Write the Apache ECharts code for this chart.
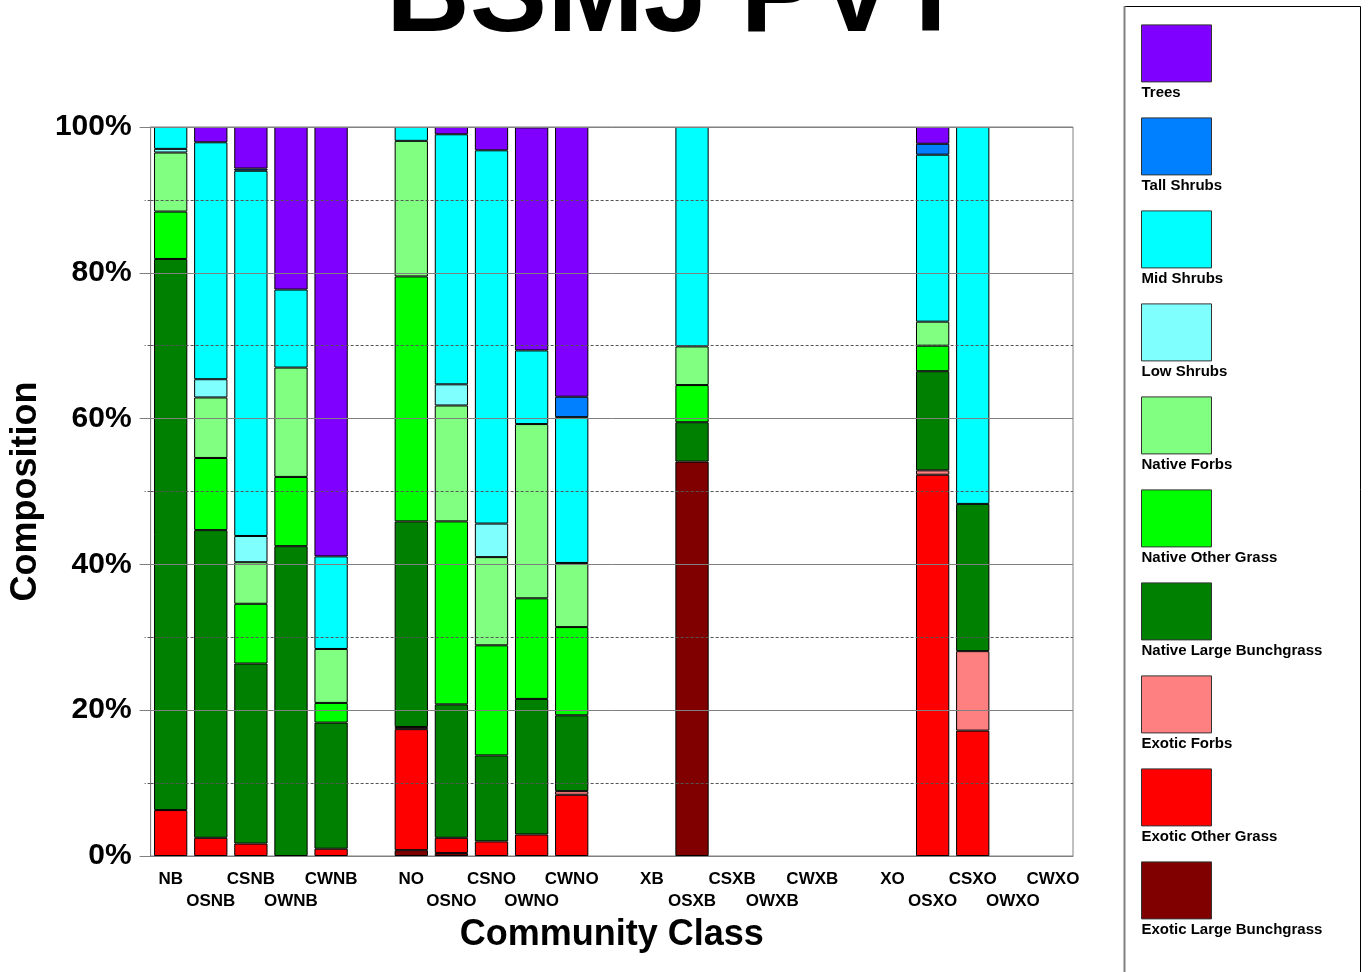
<!DOCTYPE html>
<html>
<head>
<meta charset="utf-8">
<title>BSMJ PVT</title>
<script src="https://cdn.jsdelivr.net/npm/echarts@6/dist/echarts.min.js"></script>
<style>
  html, body { margin: 0; padding: 0; background: #fff; }
  #chart { width: 1369px; height: 972px; }
</style>
</head>
<body>
<div id="chart"></div>
<script>
// community classes, '' = spacer slot between groups
const categories = [
  'NB', 'OSNB', 'CSNB', 'OWNB', 'CWNB', '',
  'NO', 'OSNO', 'CSNO', 'OWNO', 'CWNO', '',
  'XB', 'OSXB', 'CSXB', 'OWXB', 'CWXB', '',
  'XO', 'OSXO', 'CSXO', 'OWXO', 'CWXO'
];

// stack order, bottom to top
const seriesNames = [
  'Exotic Large Bunchgrass', 'Exotic Other Grass', 'Exotic Forbs',
  'Native Large Bunchgrass', 'Native Other Grass', 'Native Forbs',
  'Low Shrubs', 'Mid Shrubs', 'Tall Shrubs', 'Trees'
];

// percent composition per class
const exoticLargeBunchgrass = [0, 0, 0, 0, 0, 0, 0.8, 0.4, 0, 0, 0, 0, 0, 54.1, 0, 0, 0, 0, 0, 0, 0, 0, 0];
const exoticOtherGrass      = [6.3, 2.5, 1.7, 0, 1.0, 0, 16.6, 2.1, 2.0, 2.95, 8.4, 0, 0, 0, 0, 0, 0, 0, 0, 52.3, 17.2, 0, 0];
const exoticForbs           = [0, 0, 0, 0, 0, 0, 0.3, 0, 0, 0, 0.5, 0, 0, 0, 0, 0, 0, 0, 0, 0.6, 10.9, 0, 0];
const nativeLargeBunchgrass = [75.6, 42.2, 24.7, 42.5, 17.3, 0, 28.2, 18.3, 11.8, 18.6, 10.4, 0, 0, 5.4, 0, 0, 0, 0, 0, 13.6, 20.2, 0, 0];
const nativeOtherGrass      = [6.5, 9.9, 8.2, 9.5, 2.7, 0, 33.6, 25.1, 15.1, 13.8, 12.1, 0, 0, 5.1, 0, 0, 0, 0, 0, 3.5, 0, 0, 0];
const nativeForbs           = [8.1, 8.3, 5.7, 15.0, 7.4, 0, 18.6, 15.9, 12.1, 23.9, 8.8, 0, 0, 5.3, 0, 0, 0, 0, 0, 3.3, 0, 0, 0];
const lowShrubs             = [0.5, 2.5, 3.6, 0, 0, 0, 0, 2.9, 4.6, 0, 0, 0, 0, 0, 0, 0, 0, 0, 0, 0, 0, 0, 0];
const midShrubs             = [3.0, 32.5, 50.1, 10.7, 12.7, 0, 1.9, 34.3, 51.2, 10.1, 20.0, 0, 0, 30.1, 0, 0, 0, 0, 0, 22.9, 51.7, 0, 0];
const tallShrubs            = [0, 0, 0.3, 0, 0, 0, 0, 0, 0, 0, 2.8, 0, 0, 0, 0, 0, 0, 0, 0, 1.5, 0, 0, 0];
const trees                 = [0, 2.1, 5.7, 22.3, 58.9, 0, 0, 1.0, 3.2, 30.6, 37.0, 0, 0, 0, 0, 0, 0, 0, 0, 2.3, 0, 0, 0];

const seriesValues = [
  exoticLargeBunchgrass, exoticOtherGrass, exoticForbs,
  nativeLargeBunchgrass, nativeOtherGrass, nativeForbs,
  lowShrubs, midShrubs, tallShrubs, trees
];

const colors = [
  '#800000', '#ff0000', '#ff8080',
  '#008000', '#00ff00', '#80ff80',
  '#80ffff', '#00ffff', '#0080ff', '#8000ff'
];

const FONT = '"Liberation Sans", Arial, sans-serif';

const chart = echarts.init(document.getElementById('chart'));

const option = {
  animation: false,
  backgroundColor: '#fff',
  title: {
    text: 'BSMJ PVT',
    left: 381,
    top: -64,
    textStyle: { fontFamily: FONT, fontSize: 116, fontWeight: 'bold', color: '#000' },
  },
  grid: {
    left: 149,
    right: 296,
    top: 127,
    bottom: 116,
    show: true,
    borderColor: '#808080',
    borderWidth: 1,
  },
  legend: {
    orient: 'vertical',
    left: 1141,
    top: 6,
    padding: 0,
    data: seriesNames.slice().reverse(),
    icon: 'rect',
    itemWidth: 70,
    itemHeight: 57,
    itemGap: -1.8,
    selectedMode: false,
    itemStyle: { borderColor: '#333', borderWidth: 1 },
    // label goes under the swatch: blank lines push it down, negative padding pulls it left
    formatter: name => '\n\n\n\n\n' + name,
    textStyle: {
      fontFamily: FONT,
      fontSize: 15,
      lineHeight: 15.8,
      fontWeight: 'bold',
      color: '#000',
      padding: [0, 0, 0, -75],
    },
  },
  graphic: [
    {
      type: 'rect',
      shape: { x: 1124.5, y: 6.5, width: 236, height: 1000 },
      style: { fill: 'none', stroke: '#000', lineWidth: 1 },
      silent: true,
    },
    {
      type: 'line',
      shape: { x1: 1124.5, y1: 6, x2: 1124.5, y2: 972 },
      style: { stroke: '#808080', lineWidth: 2 },
      silent: true,
    },
  ],
  xAxis: [
    {
      type: 'category',
      data: categories,
      axisLine: { lineStyle: { color: '#808080' } },
      axisTick: { length: 11, lineStyle: { color: '#808080' } },
      axisLabel: {
        interval: 0,
        margin: 13,
        fontFamily: FONT,
        fontSize: 17,
        fontWeight: 'bold',
        color: '#000',
        lineHeight: 21.5,
        formatter: (value, index) => (index % 2 ? '\n' + value : value),
      },
      name: 'Community Class',
      nameLocation: 'middle',
      nameGap: 58,
      nameTextStyle: { fontFamily: FONT, fontSize: 36, fontWeight: 'bold', color: '#000' },
    },
    {
      type: 'category',
      data: categories,
      position: 'bottom',
      axisLine: { show: false },
      axisLabel: { show: false },
      axisTick: { inside: true, length: 12, lineStyle: { color: '#808080' } },
    },
  ],
  yAxis: {
    type: 'value',
    min: 0,
    max: 100,
    interval: 20,
    z: 5,
    axisLine: { show: true, lineStyle: { color: '#808080' } },
    axisTick: { show: true, length: 11, lineStyle: { color: '#808080' } },
    minorTick: { show: true, splitNumber: 2, length: 6, lineStyle: { color: '#555', type: [3, 2] } },
    splitLine: { show: true, lineStyle: { color: '#808080' } },
    minorSplitLine: { show: true, lineStyle: { color: '#555', type: [3, 2] } },
    axisLabel: {
      formatter: '{value}%',
      margin: 19,
      padding: [6, 0, 0, 0],
      fontFamily: FONT,
      fontSize: 30,
      fontWeight: 'bold',
      color: '#000',
    },
    name: 'Composition',
    nameLocation: 'middle',
    nameGap: 97,
    nameTextStyle: { fontFamily: FONT, fontSize: 36, fontWeight: 'bold', color: '#000' },
  },
  series: seriesNames.map((name, i) => ({
    name,
    type: 'bar',
    stack: 'total',
    barCategoryGap: '17%',
    data: seriesValues[i].map(v => (v > 0 ? v : '-')),
    itemStyle: { color: colors[i], borderColor: '#000', borderWidth: 1 },
  })),
};

chart.setOption(option);
</script>
</body>
</html>
